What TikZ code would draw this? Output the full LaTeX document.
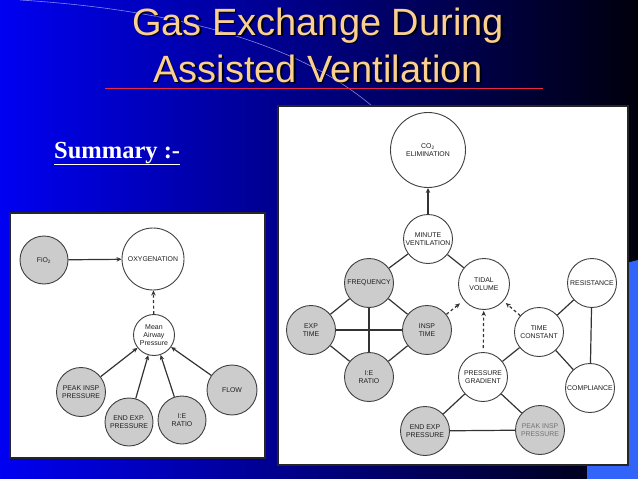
\documentclass[tikz,border=0pt]{standalone}
\usepackage{fontspec}
\setmainfont{Liberation Serif}
\newfontfamily\arial{Liberation Sans}
\usetikzlibrary{arrows.meta}
\definecolor{titlecol}{RGB}{250,208,145}
\definecolor{bgleft}{RGB}{0,0,242}
\definecolor{bgmid}{RGB}{0,0,178}
\definecolor{bgright}{RGB}{0,0,12}
\definecolor{lightblue}{RGB}{50,100,250}
\definecolor{redline}{RGB}{235,40,70}
\begin{document}
\begin{tikzpicture}[x=1pt,y=-1pt,
  nd/.style={circle,draw=black!75,line width=0.9pt,inner sep=0pt,minimum size=49pt,align=center,
    font=\arial\fontsize{6.9}{7.9}\selectfont,text=black!88,fill=white},
  gnd/.style={nd,fill=black!20},
  ln/.style={draw=black!80,line width=1.2pt},
  ar/.style={ln,-{Stealth[length=5pt,width=4.5pt]}},
  dar/.style={ar,dash pattern=on 3pt off 2.5pt},
  titletxt/.style={anchor=base,inner sep=0pt,font=\arial\fontsize{38}{40}\selectfont},
  panel/.style={fill=white,draw=black!85,line width=1.2pt}]
\useasboundingbox (0,0) rectangle (638,479);
\shade[left color=bgleft,middle color=bgmid,right color=bgright] (0,0) rectangle (638,479);
\fill[lightblue] (587,273) -- (638,260) -- (638,479) -- (587,479) -- cycle;
\draw[white!70!blue,line width=0.6pt,opacity=0.75] (20,0) .. controls (180,10) and (300,45) .. (372,106);
% title
\node[titletxt,text=black] (t1s) at (319.6,36.6) {Gas Exchange During};
\node[titletxt,text=titlecol] (t1) at (318,35) {Gas Exchange During};
\node[titletxt,text=black] (t2s) at (319.6,83.6) {Assisted Ventilation};
\node[titletxt,text=titlecol] (t2) at (318,82) {Assisted Ventilation};
\draw[redline,line width=1pt] (105,88) -- (543,88);
\node[anchor=base west,inner sep=0pt,text=white,font=\bfseries\fontsize{24.5}{26}\selectfont] (sum) at (54,158) {\underline{Summary :-}};
% panels
\draw[panel] (10,213) rectangle (265,458);
\draw[panel] (278,106) rectangle (628,465);
% left diagram
\node[gnd,minimum size=48pt] (fio) at (44,260) {FiO\textsubscript{2}};
\node[nd,minimum size=62pt] (oxy) at (153,259) {OXYGENATION};
\node[nd,minimum size=41pt,font=\arial\fontsize{7}{8.2}\selectfont] (maw) at (154,335) {Mean\\Airway\\Pressure};
\node[gnd] (lpip) at (81,392) {PEAK INSP\\PRESSURE};
\node[gnd,minimum size=48pt] (leep) at (129,422) {END EXP.\\PRESSURE};
\node[gnd,minimum size=48pt] (lie) at (182,420) {I:E\\RATIO};
\node[gnd,minimum size=50pt] (flow) at (232,390) {FLOW};
\draw[ar] (fio) -- (oxy);
\draw[dar] (maw) -- (oxy);
\draw[ar] (lpip) -- (maw);
\draw[ar] (leep) -- (maw);
\draw[ar] (lie) -- (maw);
\draw[ar] (flow) -- (maw);
% right diagram
\node[nd,minimum size=75pt] (co2) at (428,150) {CO\textsubscript{2}\\ELIMINATION};
\node[nd] (mv) at (428,239) {MINUTE\\VENTILATION};
\node[gnd] (freq) at (369,283) {FREQUENCY};
\node[nd,minimum size=51pt] (tv) at (484,284) {TIDAL\\VOLUME};
\node[nd] (res) at (592,283) {RESISTANCE};
\node[gnd] (expt) at (311,330) {EXP\\TIME};
\node[gnd] (inspt) at (427,330) {INSP\\TIME};
\node[gnd] (rie) at (369,377) {I:E\\RATIO};
\node[nd] (tc) at (539,332) {TIME\\CONSTANT};
\node[nd] (pg) at (483,377) {PRESSURE\\GRADIENT};
\node[nd] (comp) at (590,388) {COMPLIANCE};
\node[gnd] (reep) at (425,431) {END EXP\\PRESSURE};
\node[gnd,text=black!55] (rpip) at (540,430) {PEAK INSP\\PRESSURE};
\draw[ar] (mv) -- (co2);
\draw[ln] (mv) -- (freq);
\draw[ln] (mv) -- (tv);
\draw[ln] (freq) -- (expt);
\draw[ln] (freq) -- (inspt);
\draw[ln] (freq) -- (rie);
\draw[ln] (expt) -- (inspt);
\draw[ln] (expt) -- (rie);
\draw[ln] (inspt) -- (rie);
\draw[ln] (tc) -- (res);
\draw[ln] (tc) -- (comp);
\draw[ln] (tc) -- (pg);
\draw[ln] (res) -- (comp);
\draw[ln] (pg) -- (reep);
\draw[ln] (pg) -- (rpip);
\draw[ln] (reep) -- (rpip);
\draw[dar,shorten >=5pt] (inspt) -- (tv);
\draw[dar,shorten <=4pt,shorten >=1pt] (pg) -- (tv);
\draw[dar,shorten >=3pt] (tc) -- (tv);
\end{tikzpicture}
\end{document}
